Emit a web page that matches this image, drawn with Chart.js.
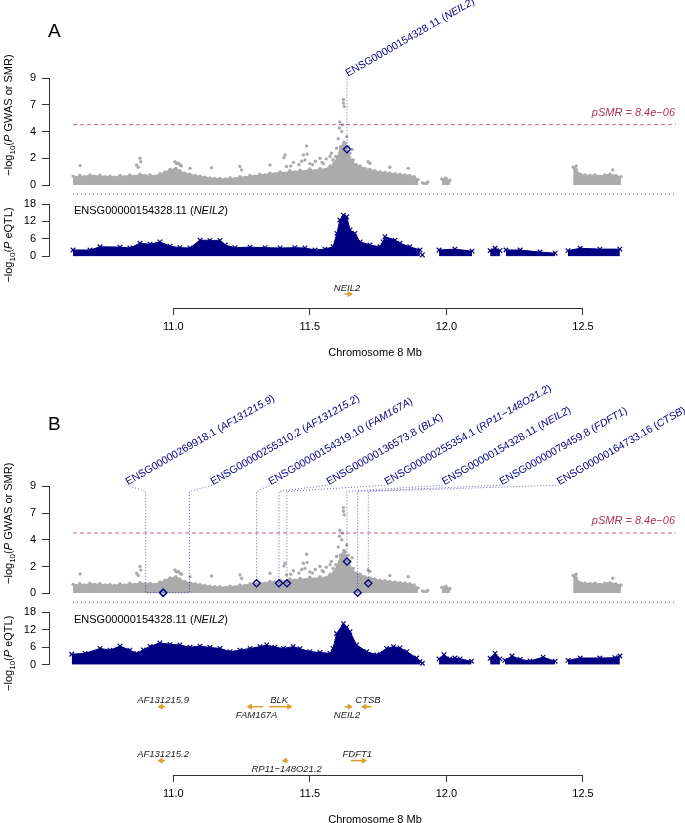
<!DOCTYPE html>
<html>
<head>
<meta charset="utf-8">
<title>SMR locus plot</title>
<script src="https://cdn.jsdelivr.net/npm/chart.js@4.4.1/dist/chart.umd.min.js"></script>
<style>
  html, body { margin: 0; padding: 0; background: #ffffff; }
  #page { position: relative; width: 685px; height: 823px; overflow: hidden; background: #ffffff; }
  #page canvas { position: absolute; left: 0; }
</style>
</head>
<body>
<div id="page">
  <canvas id="gwasA" width="685" height="200" style="top:0px"></canvas>
  <canvas id="eqtlA" width="685" height="105" style="top:190px"></canvas>
  <canvas id="geneA" width="685" height="100" style="top:262px"></canvas>
  <canvas id="gwasB" width="685" height="243" style="top:365px"></canvas>
  <canvas id="eqtlB" width="685" height="105" style="top:598px"></canvas>
  <canvas id="geneB" width="685" height="151" style="top:672px"></canvas>
</div>
<script>
// ---- data (chromosome 8, Mb) ----
const X_MIN = 10.545, X_MAX = 12.8405;
const X_TICKS = [11.0, 11.5, 12.0, 12.5];
const GWAS_TICKS = [0, 2.25, 4.5, 6.75, 9];
const GWAS_TICK_LABELS = ['0', '2', '4', '7', '9'];
const EQTL_TICKS = [0, 6, 12, 18];
const P_SMR = 8.4e-6;
const EQTL_PROBE = 'ENSG00000154328.11';
const EQTL_GENE = 'NEIL2';

// dense GWAS cloud (upper edge), null = gap
const gwasBandPos = [10.633, 10.645, 10.658, 10.675, 10.695, 10.712, 10.732, 10.750, 10.768, 10.785,
  10.805, 10.822, 10.841, 10.860, 10.878, 10.895, 10.915, 10.933, 10.951, 10.970,
  10.988, 11.010, 11.024, 11.042, 11.061, 11.080, 11.098, 11.116, 11.134, 11.152,
  11.171, 11.190, 11.208, 11.226, 11.244, 11.262, 11.281, 11.300, 11.317, 11.335,
  11.354, 11.372, 11.391, 11.409, 11.427, 11.445, 11.464, 11.482, 11.500, 11.518,
  11.537, 11.555, 11.574, 11.588, 11.600, 11.612, 11.625, 11.640, 11.655, 11.670,
  11.684, 11.702, 11.720, 11.738, 11.757, 11.775, 11.793, 11.812, 11.830, 11.848,
  11.866, 11.882, 11.896,
  null, 11.912, 11.932, null, 11.983, 11.998, 12.013, null,
  12.464, 12.470, 12.475, 12.490, 12.508, 12.526, 12.544, 12.562, 12.580, 12.599, 12.620, 12.639];
const gwasBandTop = [0.75, 0.65, 0.8, 0.7, 0.85, 0.75, 0.8, 0.7, 0.75, 0.65,
  0.8, 0.7, 0.85, 0.75, 0.9, 0.8, 0.85, 0.75, 0.95, 1.1,
  1.3, 1.4, 1.2, 1.0, 0.9, 0.8, 0.75, 0.65, 0.6, 0.55,
  0.55, 0.5, 0.6, 0.55, 0.7, 0.65, 0.8, 0.75, 0.9, 0.85,
  1.0, 0.95, 1.1, 1.0, 1.2, 1.1, 1.25, 1.15, 1.35, 1.2,
  1.4, 1.3, 1.6, 1.8, 2.3, 3.2, 3.6, 2.8, 2.0, 1.7,
  1.6, 1.4, 1.3, 1.2, 1.1, 1.05, 1.0, 0.95, 0.9, 0.85,
  0.8, 0.7, 0.45,
  null, 0.2, 0.25, null, 0.5, 0.6, 0.4, null,
  1.5, 1.4, 1.3, 0.9, 0.85, 0.8, 0.85, 0.75, 0.85, 0.9, 0.8, 0.7];

// isolated GWAS SNPs above the cloud
const gwasDotPos = [10.659, 10.866, 10.872, 10.878, 10.881, 11.006, 11.012, 11.018, 11.024, 11.030,
  11.061, 11.140, 11.244, 11.250, 11.354, 11.405, 11.409, 11.415, 11.430, 11.440,
  11.460, 11.470, 11.476, 11.482, 11.488, 11.490, 11.500, 11.510, 11.520, 11.537,
  11.545, 11.550, 11.560, 11.574, 11.579, 11.585, 11.586, 11.595, 11.598, 11.604,
  11.608, 11.610, 11.617, 11.620, 11.623, 11.623, 11.626, 11.629, 11.635, 11.641,
  11.647, 11.655, 11.659, 11.713, 11.720, 11.793, 11.860, 12.475, 12.609];
const gwasDotVal = [1.63, 1.69, 1.5, 2.25, 1.95, 1.96, 1.8, 1.83, 1.7, 1.6,
  1.4, 1.46, 1.55, 1.26, 1.69, 2.3, 2.53, 1.55, 1.6, 1.9,
  1.7, 2.0, 2.53, 2.1, 3.29, 2.6, 1.8, 1.7, 2.0, 2.25,
  1.9, 1.8, 2.2, 2.4, 2.67, 2.1, 2.1, 2.4, 3.1, 3.9,
  4.8, 5.3, 4.5, 5.06, 7.2, 6.9, 6.6, 3.5, 4.07, 3.2,
  2.67, 3.0, 2.1, 1.96, 1.83, 1.49, 1.4, 1.6, 1.26];

// eQTL clouds (upper edge), panel A and panel B
const eqtlPosA = [10.633, 10.695, 10.732, 10.805, 10.841, 10.878, 10.915, 10.951, 10.988, 11.024,
  11.061, 11.098, 11.134, 11.171, 11.190, 11.226, 11.281, 11.336, 11.391, 11.445,
  11.482, 11.519, 11.555, 11.585, 11.599, 11.610, 11.623, 11.635, 11.647, 11.665,
  11.684, 11.720, 11.757, 11.768, 11.775, 11.812, 11.830, 11.866, 11.903,
  null, 11.912, null, 11.973, 12.031, 12.094, null, 12.160, 12.178, 12.196, null,
  12.218, 12.270, 12.343, 12.398, null, 12.445, 12.490, 12.562, 12.635];
const eqtlTopA = [2.2, 2.2, 3.3, 3.2, 2.9, 4.5, 4.2, 5.0, 3.5, 3.0,
  2.9, 5.6, 5.5, 5.5, 3.9, 3.0, 3.2, 3.0, 2.9, 3.0,
  2.9, 2.2, 2.5, 3.3, 7.9, 12.5, 14.2, 13.6, 9.1, 7.9,
  5.0, 3.9, 3.3, 5.0, 6.8, 5.6, 4.5, 3.3, 2.2,
  null, 0.5, null, 2.2, 2.5, 1.8, null, 2.0, 2.8, 2.0, null,
  2.2, 2.2, 1.5, 1.1, null, 2.0, 2.8, 2.5, 2.5];

const eqtlPosB = [10.628, 10.677, 10.732, 10.768, 10.805, 10.841, 10.866, 10.890, 10.915, 10.951,
  10.988, 11.024, 11.061, 11.098, 11.134, 11.171, 11.208, 11.244, 11.281, 11.317,
  11.342, 11.372, 11.403, 11.439, 11.464, 11.500, 11.537, 11.574, 11.585, 11.598,
  11.623, 11.635, 11.647, 11.671, 11.708, 11.745, 11.781, 11.806, 11.830, 11.855,
  11.891, 11.903, null, 11.912, null,
  11.973, 11.991, 12.013, 12.031, 12.050, 12.092, null, 12.160, 12.178, 12.196, null,
  12.214, 12.240, 12.270, 12.306, 12.354, 12.398, null, 12.445, 12.490, 12.562, 12.617, 12.635];
const eqtlTopB = [3.6, 3.9, 5.6, 5.0, 6.4, 5.0, 3.9, 5.1, 6.3, 7.5,
  7.0, 6.8, 6.0, 6.4, 5.9, 5.6, 4.5, 5.0, 5.6, 6.2,
  6.8, 6.0, 5.6, 6.2, 5.5, 4.5, 4.2, 3.9, 5.6, 10.7,
  14.1, 12.9, 11.3, 6.8, 4.5, 3.4, 5.6, 6.2, 5.8, 4.5,
  2.3, 1.1, null, 0.5, null,
  2.0, 3.4, 2.0, 2.3, 2.0, 1.2, null, 2.2, 3.9, 2.0, null,
  1.5, 3.0, 1.8, 1.3, 2.6, 1.2, null, 1.5, 2.3, 2.3, 2.4, 3.0];

// SMR probes
const probesA = ['ENSG00000154328.11'];
const probeGenesA = ['NEIL2'];
const probePosA = [11.636];
const probeSmrA = [3.0];
const probeLinePosA = [11.636];
const labelPosA = [11.636];

const probesB = ['ENSG00000269918.1', 'ENSG00000255310.2', 'ENSG00000154319.10', 'ENSG00000136573.8',
  'ENSG00000255354.1', 'ENSG00000154328.11', 'ENSG00000079459.8', 'ENSG00000164733.16'];
const probeGenesB = ['AF131215.9', 'AF131215.2', 'FAM167A', 'BLK', 'RP11\u2212148O21.2', 'NEIL2', 'FDFT1', 'CTSB'];
const probePosB = [10.963, 10.963, 11.305, 11.387, 11.416, 11.636, 11.675, 11.714];
const probeSmrB = [0.05, 0.05, 0.84, 0.84, 0.84, 2.67, 0.05, 0.84];
const probeLinePosB = [10.899, 11.059, 11.305, 11.387, 11.416, 11.636, 11.675, 11.714];
const labelPosB = [10.831, 11.142, 11.354, 11.566, 11.779, 11.989, 12.200, 12.410];

// genes
const genesA = ['NEIL2'];
const geneStartA = [11.627];
const geneEndA = [11.645];
const geneStrandA = ['+'];
const geneRowA = [1];
const geneBelowA = [false];

const genesB = ['AF131215.9', 'FAM167A', 'BLK', 'NEIL2', 'CTSB', 'AF131215.2', 'RP11\u2212148O21.2', 'FDFT1'];
const geneStartB = [10.955, 11.281, 11.351, 11.627, 11.700, 10.955, 11.410, 11.650];
const geneEndB = [10.970, 11.329, 11.424, 11.645, 11.726, 10.970, 11.420, 11.697];
const geneStrandB = ['-', '-', '+', '+', '-', '-', '-', '+'];
const geneRowB = [1, 1, 1, 1, 1, 2, 2, 2];
const geneBelowB = [false, true, false, true, false, false, true, false];

// ---- styling ----
const FONT = '"Liberation Sans", Arial, Helvetica, sans-serif';
const NAVY = '#000080';
const GREY = '#ababab';
const MAROON = '#b03060';
const GOLD = '#d9a030';
const AXIS = '#333333';
const AXIS_W = 49;       // y axis sits at x = 49
const SEP_Y = -0.76;     // dotted separator under the GWAS track
const SMR_LINE = -Math.log10(P_SMR);

Chart.defaults.font.family = FONT;
Chart.defaults.color = '#000';

const f = (size, style) => (style ? style + ' ' : '') + size + 'px ' + FONT;

function smrText(p) {
  const parts = p.toExponential(1).split('e');
  const e = parseInt(parts[1], 10);
  return parts[0] + 'e' + (e < 0 ? '\u2212' : '+') + String(Math.abs(e)).padStart(2, '0');
}

function toXY(xs, ys) {
  return xs.map((x, i) => ({ x: x === null ? xs[i - 1] : x, y: ys[i] }));
}

function drawRuns(ctx, runs, x, y, angle, align, color) {
  ctx.save();
  ctx.translate(x, y);
  ctx.rotate(angle * Math.PI / 180);
  ctx.fillStyle = color;
  ctx.textBaseline = 'alphabetic';
  ctx.textAlign = 'left';
  let total = 0;
  const widths = runs.map(r => { ctx.font = r.font; const w = ctx.measureText(r.text).width; total += w; return w; });
  let cx = align === 'center' ? -total / 2 : (align === 'right' ? -total : 0);
  runs.forEach((r, i) => { ctx.font = r.font; ctx.fillText(r.text, cx, r.dy || 0); cx += widths[i]; });
  ctx.restore();
}

function yAxis(min, max, ticks, labels) {
  return {
    type: 'linear', min: min, max: max, position: 'left',
    afterFit: s => { s.width = AXIS_W; },
    afterBuildTicks: s => { s.ticks = ticks.map(v => ({ value: v })); },
    ticks: { callback: (v, i) => labels[i], font: { size: 11 }, color: '#000', padding: 6, autoSkip: false, maxRotation: 0 },
    grid: { drawOnChartArea: false, drawTicks: true, tickLength: 7, color: AXIS, lineWidth: 1 },
    border: { display: true, color: AXIS, width: 1 }
  };
}

function hiddenX() {
  return { type: 'linear', min: X_MIN, max: X_MAX, display: false };
}

function baseOptions(padding, scales) {
  return {
    responsive: false, animation: false, devicePixelRatio: 1, events: [],
    layout: { padding: padding },
    plugins: { legend: { display: false }, tooltip: { enabled: false } },
    scales: scales
  };
}

// ---- GWAS / SMR track ----
function gwasChart(id, canvasTop, padTop, padBottom, p) {
  const datasets = [];
  datasets.push({
    data: toXY(p.pos, p.smr), pointStyle: 'rectRot', pointRadius: 3.6,
    pointBorderColor: NAVY, pointBackgroundColor: 'rgba(255,255,255,0)', pointBorderWidth: 1.3,
    order: 0, clip: false
  });
  p.pos.forEach((x0, i) => {
    datasets.push({
      data: [{ x: x0, y: p.smr[i] }, { x: p.linePos[i], y: p.smr[i] },
             { x: p.linePos[i], y: p.lineTop }, { x: p.labelPos[i], y: p.labelY }],
      showLine: true, pointRadius: 0, borderColor: 'rgba(0,0,128,0.6)', borderWidth: 1,
      borderDash: [1, 2], order: 1, clip: false
    });
  });
  datasets.push({
    data: [{ x: gwasBandPos[0], y: SMR_LINE }, { x: X_MAX, y: SMR_LINE }],
    showLine: true, pointRadius: 0, borderColor: 'rgba(176,48,96,0.75)', borderWidth: 1,
    borderDash: [4, 3], order: 2, clip: false
  });
  datasets.push({
    data: [{ x: gwasBandPos[0], y: SEP_Y }, { x: X_MAX, y: SEP_Y }],
    showLine: true, pointRadius: 0, borderColor: '#555', borderWidth: 1,
    borderDash: [1, 3], order: 2, clip: false
  });
  datasets.push({
    data: toXY(gwasDotPos, gwasDotVal), pointRadius: 1.7, pointBackgroundColor: GREY,
    pointBorderWidth: 0, order: 3, clip: false
  });
  datasets.push({
    data: toXY(gwasBandPos, gwasBandTop), showLine: true, fill: { value: 0 },
    backgroundColor: GREY, borderColor: GREY, borderWidth: 1,
    pointRadius: 1.7, pointBackgroundColor: GREY, pointBorderWidth: 0, order: 4, clip: false
  });

  const textPlugin = {
    id: 'gwasText',
    afterDatasetsDraw(chart) {
      const { ctx, chartArea: a, scales: { x, y } } = chart;
      p.probes.forEach((name, i) => {
        drawRuns(ctx, [
          { text: name + ' (', font: f(10.5) },
          { text: p.genes[i], font: f(10.5, 'italic') },
          { text: ')', font: f(10.5) }
        ], x.getPixelForValue(p.labelPos[i]) + 1, y.getPixelForValue(p.labelY), -30, 'left', NAVY);
      });
      drawRuns(ctx, [{ text: 'pSMR = ' + smrText(P_SMR), font: f(11, 'italic') }],
        a.right - 1, y.getPixelForValue(SMR_LINE) - 8.5, 0, 'right', MAROON);
      drawRuns(ctx, [{ text: p.letter, font: f(19) }], 48, p.letterBaseline - canvasTop, 0, 'left', '#000');
      drawRuns(ctx, [
        { text: '\u2212log', font: f(11) },
        { text: '10', font: f(8), dy: 3 },
        { text: '(', font: f(11) },
        { text: 'P', font: f(11, 'italic') },
        { text: ' GWAS or SMR)', font: f(11) }
      ], 12, (a.top + a.bottom) / 2 - 16.5, -90, 'center', '#000');
    }
  };

  return new Chart(document.getElementById(id), {
    type: 'scatter',
    data: { datasets: datasets },
    options: baseOptions({ left: 0, right: 9, top: padTop, bottom: padBottom }, {
      x: hiddenX(),
      y: yAxis(0, 9, GWAS_TICKS, GWAS_TICK_LABELS)
    }),
    plugins: [textPlugin]
  });
}

// ---- eQTL track ----
function eqtlChart(id, padTop, padBottom, pos, top) {
  const textPlugin = {
    id: 'eqtlText',
    afterDatasetsDraw(chart) {
      const { ctx, chartArea: a } = chart;
      drawRuns(ctx, [
        { text: EQTL_PROBE + ' (', font: f(11) },
        { text: EQTL_GENE, font: f(11, 'italic') },
        { text: ')', font: f(11) }
      ], 74, a.top + 10.3, 0, 'left', '#000');
      drawRuns(ctx, [
        { text: '\u2212log', font: f(11) },
        { text: '10', font: f(8), dy: 3 },
        { text: '(', font: f(11) },
        { text: 'P', font: f(11, 'italic') },
        { text: ' eQTL)', font: f(11) }
      ], 12, (a.top + a.bottom) / 2 + 14.8, -90, 'center', '#000');
    }
  };
  return new Chart(document.getElementById(id), {
    type: 'scatter',
    data: {
      datasets: [{
        data: toXY(pos, top), showLine: true, fill: { value: 0 },
        backgroundColor: NAVY, borderColor: NAVY, borderWidth: 1,
        pointStyle: 'crossRot', pointRadius: 3.2, pointBorderColor: NAVY, pointBorderWidth: 1.2,
        clip: false
      }]
    },
    options: baseOptions({ left: 0, right: 9, top: padTop, bottom: padBottom }, {
      x: hiddenX(),
      y: yAxis(0, 18, EQTL_TICKS, EQTL_TICKS.map(String))
    }),
    plugins: [textPlugin]
  });
}

// ---- gene track + chromosome axis ----
function geneChart(id, padTop, axisHeight, g, rowY) {
  const datasets = g.names.map((name, i) => {
    const plus = g.strand[i] === '+';
    const ry = rowY[g.row[i]];
    return {
      data: [{ x: g.start[i], y: ry }, { x: g.end[i], y: ry }],
      showLine: true, borderColor: GOLD, borderWidth: 1.5,
      pointStyle: 'triangle', pointRadius: plus ? [0, 2.8] : [2.8, 0],
      pointRotation: plus ? [0, 90] : [-90, 0],
      pointBackgroundColor: GOLD, pointBorderColor: GOLD, pointBorderWidth: 1, clip: false
    };
  });
  const textPlugin = {
    id: 'geneText',
    afterDatasetsDraw(chart) {
      const { ctx, chartArea: a, scales: { x, y } } = chart;
      g.names.forEach((name, i) => {
        const px = x.getPixelForValue((g.start[i] + g.end[i]) / 2);
        const py = y.getPixelForValue(rowY[g.row[i]]);
        drawRuns(ctx, [{ text: name, font: f(9.5, 'italic') }], px, g.below[i] ? py + 11 : py - 3.5, 0, 'center', '#222');
      });
      ctx.save();
      ctx.strokeStyle = AXIS;
      ctx.lineWidth = 1;
      ctx.beginPath();
      ctx.moveTo(x.getPixelForValue(X_TICKS[0]), a.bottom + 0.5);
      ctx.lineTo(x.getPixelForValue(X_TICKS[X_TICKS.length - 1]), a.bottom + 0.5);
      ctx.stroke();
      ctx.restore();
      drawRuns(ctx, [{ text: 'Chromosome 8 Mb', font: f(11) }], 375, a.bottom + 48, 0, 'center', '#000');
    }
  };
  return new Chart(document.getElementById(id), {
    type: 'scatter',
    data: { datasets: datasets },
    options: baseOptions({ left: AXIS_W, right: 9, top: padTop, bottom: 0 }, {
      x: {
        type: 'linear', min: X_MIN, max: X_MAX, position: 'bottom',
        afterFit: s => { s.height = axisHeight; },
        afterBuildTicks: s => { s.ticks = X_TICKS.map(v => ({ value: v })); },
        ticks: { callback: v => v.toFixed(1), font: { size: 11 }, color: '#000', padding: 5, autoSkip: false, maxRotation: 0 },
        grid: { drawOnChartArea: false, drawTicks: true, tickLength: 7, color: AXIS, lineWidth: 1 },
        border: { display: false }
      },
      y: { type: 'linear', min: 0, max: 1, display: false }
    }),
    plugins: [textPlugin]
  });
}

// ---- panel A ----
gwasChart('gwasA', 0, 78, 15, {
  letter: 'A', letterBaseline: 36.7,
  probes: probesA, genes: probeGenesA, pos: probePosA, smr: probeSmrA,
  linePos: probeLinePosA, labelPos: labelPosA, lineTop: 9.1, labelY: 9.1
});
eqtlChart('eqtlA', 14, 38.6, eqtlPosA, eqtlTopA);
geneChart('geneA', 8, 54, {
  names: genesA, start: geneStartA, end: geneEndA, strand: geneStrandA, row: geneRowA, below: geneBelowA
}, { 1: 0.368 });

// ---- panel B ----
gwasChart('gwasB', 365, 121.3, 14.7, {
  letter: 'B', letterBaseline: 430,
  probes: probesB, genes: probeGenesB, pos: probePosB, smr: probeSmrB,
  linePos: probeLinePosB, labelPos: labelPosB, lineTop: 8.57, labelY: 9.09
});
eqtlChart('eqtlB', 14.3, 38.3, eqtlPosB, eqtlTopB);
geneChart('geneB', 8, 48, {
  names: genesB, start: geneStartB, end: geneEndB, strand: geneStrandB, row: geneRowB, below: geneBelowB
}, { 1: 0.719, 2: 0.151 });
</script>
</body>
</html>
